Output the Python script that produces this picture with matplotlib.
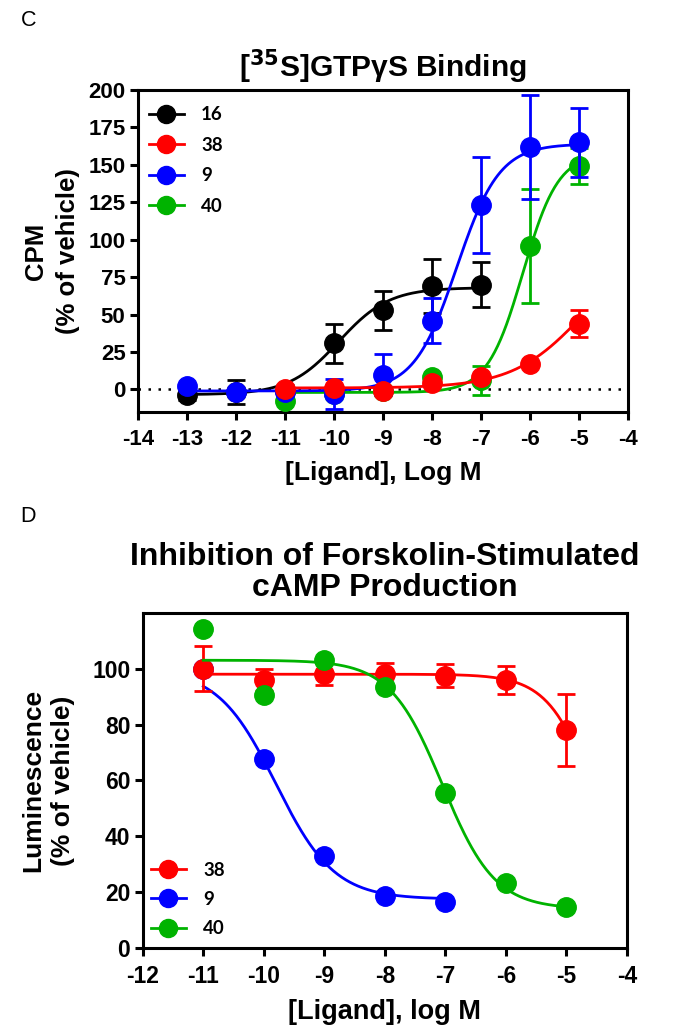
import numpy as np
import matplotlib
matplotlib.use("Agg")
import matplotlib.pyplot as plt
from matplotlib.lines import Line2D

plt.rcParams['font.family'] = ['Liberation Sans', 'DejaVu Sans']
plt.rcParams['axes.unicode_minus'] = False

# ---------------- Panel C data: [35S]GTPgS binding ----------------
c_names = ['16', '38', '9', '40']
c_colors = ['#000000', '#ff0000', '#0000ff', '#00b300']
c16_x = [-13, -12, -11, -10, -9, -8, -7]
c16_y = [-4, -2, -1, 31, 53, 69, 70]
c16_e = [3, 8, 4, 13, 13, 18, 15]
c38_x = [-11, -10, -9, -8, -7, -6, -5]
c38_y = [0, 1, -1, 4, 8, 17, 44]
c38_e = [0, 0, 0, 0, 0, 0, 9]
c9_x = [-13, -12, -11, -10, -9, -8, -7, -6, -5]
c9_y = [2, -2, -2, -3, 10, 46, 123, 162, 165]
c9_e = [0, 0, 0, 10, 14, 15, 32, 35, 23]
c40_x = [-11, -10, -9, -8, -7, -6, -5]
c40_y = [-8, -3, -1, 8, 6, 96, 149]
c40_e = [0, 0, 0, 0, 10, 38, 12]
# 4PL fit parameters (bottom, top, logEC50, hill) and curve ranges
c16_fit = [-3.5, 68, -9.9, 0.85]
c38_fit = [1, 100, -4.9, 0.6]
c9_fit = [-1, 164, -7.5, 1.0]
c40_fit = [-2, 158, -6.15, 1.2]
c16_rng = [-13, -7]
c38_rng = [-11, -5]
c9_rng = [-13, -5]
c40_rng = [-11, -5]

# ---------------- Panel D data: cAMP inhibition ----------------
d_names = ['38', '9', '40']
d38_x = [-11, -10, -9, -8, -7, -6, -5]
d38_y = [100, 96, 98, 98, 97.5, 96, 78]
d38_e = [8, 4, 4, 4, 4, 5, 13]
d9_x = [-11, -10, -9, -8, -7]
d9_y = [100, 67.5, 33, 18.6, 16.4]
d9_e = [0, 0, 0, 0, 0]
d40_x = [-11, -10, -9, -8, -7, -6, -5]
d40_y = [114, 90.7, 103, 93.5, 55.4, 23.2, 14.6]
d40_e = [0, 0, 0, 0, 0, 0, 0]
d38_fit = [0, 98, -4.46, 1.1]
d9_fit = [17.5, 100, -9.8, 0.9]
d40_fit = [14, 103, -7.05, 1.0]
d38_rng = [-11, -5]
d9_rng = [-11, -7]
d40_rng = [-11, -5]

c_xticks = list(range(-14, -3))
c_yticks = [0, 25, 50, 75, 100, 125, 150, 175, 200]
d_xticks = list(range(-12, -3))
d_yticks = [0, 20, 40, 60, 80, 100]


def rising(x, p):
    b, t, c, h = p
    return b + (t - b) / (1 + 10 ** ((c - x) * h))


def falling(x, p):
    b, t, c, h = p
    return b + (t - b) / (1 + 10 ** ((x - c) * h))


fig = plt.figure(figsize=(6.8, 10.35), dpi=100)

MS = 14
LW = 2.0
CAP = 6.5


def series(ax, x, y, e, fit, rng, color, fn, z):
    xx = np.linspace(rng[0], rng[1], 300)
    ax.plot(xx, fn(xx, fit), color=color, lw=LW, zorder=z)
    ee = np.array(e, dtype=float)
    ax.errorbar(x, y, yerr=np.where(ee > 0, ee, np.nan), fmt='none', ecolor=color,
                elinewidth=LW, capsize=CAP, capthick=LW, zorder=z)
    ax.plot(x, y, 'o', color=color, ms=MS, mec=color, zorder=z + 0.5)


def style(ax, ls):
    for s in ['top', 'right', 'left', 'bottom']:
        ax.spines[s].set_linewidth(2.2)
    ax.tick_params(direction='out', length=6, width=2.2, labelsize=ls)
    ax.tick_params(axis='x', pad=6)
    ax.tick_params(axis='y', pad=3)
    for lab in ax.get_xticklabels() + ax.get_yticklabels():
        lab.set_fontweight('bold')


LEG_FONT = {'family': 'Lato', 'weight': 'bold', 'size': 13.5}

# ---------------- Panel C ----------------
axc = fig.add_axes([0.203, 0.602, 0.721, 0.311])
axc.axhline(0, color='black', ls=(0, (1, 3)), lw=1.8, zorder=1)
series(axc, c16_x, c16_y, c16_e, c16_fit, c16_rng, c_colors[0], rising, 2)
series(axc, c40_x, c40_y, c40_e, c40_fit, c40_rng, c_colors[3], rising, 3)
series(axc, c9_x, c9_y, c9_e, c9_fit, c9_rng, c_colors[2], rising, 4)
series(axc, c38_x, c38_y, c38_e, c38_fit, c38_rng, c_colors[1], rising, 5)
axc.set_xlim(-14, -4)
axc.set_ylim(-15, 200)
axc.set_xticks(c_xticks)
axc.set_yticks(c_yticks)
style(axc, 16)
axc.set_xlabel('[Ligand], Log M', fontsize=19, fontweight='bold', labelpad=8)
axc.set_ylabel('CPM\n(% of vehicle)', fontsize=18.5, fontweight='bold', labelpad=6,
               linespacing=1.4)
axc.set_title('[$\\mathbf{^{35}}$S]GTP\u03b3S Binding', fontsize=21.5, fontweight='bold', pad=9)
handles = [Line2D([], [], color=c, marker='o', ms=MS - 1, lw=LW) for c in c_colors]
axc.legend(handles, c_names, loc='upper left', frameon=False, handlelength=1.9,
           prop=LEG_FONT, labelspacing=0.72, handletextpad=0.9,
           bbox_to_anchor=(-0.009, 0.996), borderaxespad=0.4)

# ---------------- Panel D ----------------
axd = fig.add_axes([0.210, 0.084, 0.712, 0.324])
d_colors = ['#ff0000', '#0000ff', '#00b300']
series(axd, d9_x, d9_y, d9_e, d9_fit, d9_rng, d_colors[1], falling, 2)
series(axd, d38_x, d38_y, d38_e, d38_fit, d38_rng, d_colors[0], falling, 3)
series(axd, d40_x, d40_y, d40_e, d40_fit, d40_rng, d_colors[2], falling, 4)
axd.set_xlim(-12, -4)
axd.set_ylim(0, 120)
axd.set_xticks(d_xticks)
axd.set_yticks(d_yticks)
style(axd, 16.5)
axd.set_xlabel('[Ligand], log M', fontsize=19.5, fontweight='bold', labelpad=8)
axd.set_ylabel('Luminescence\n(% of vehicle)', fontsize=19, fontweight='bold', labelpad=12,
               linespacing=1.3)
axd.set_title('Inhibition of Forskolin-Stimulated\ncAMP Production', fontsize=23,
              fontweight='bold', pad=12, linespacing=1.05)
handles = [Line2D([], [], color=c, marker='o', ms=MS - 1, lw=LW) for c in d_colors]
axd.legend(handles, d_names, loc='lower left', frameon=False, handlelength=1.9,
           prop=LEG_FONT, labelspacing=0.65, handletextpad=0.9,
           bbox_to_anchor=(-0.015, -0.012), borderaxespad=0.4)

fig.text(0.03, 0.980, 'C', fontsize=15.5, va='center', ha='left')
fig.text(0.03, 0.501, 'D', fontsize=15.5, va='center', ha='left')

fig.savefig('out.png', dpi=100)
